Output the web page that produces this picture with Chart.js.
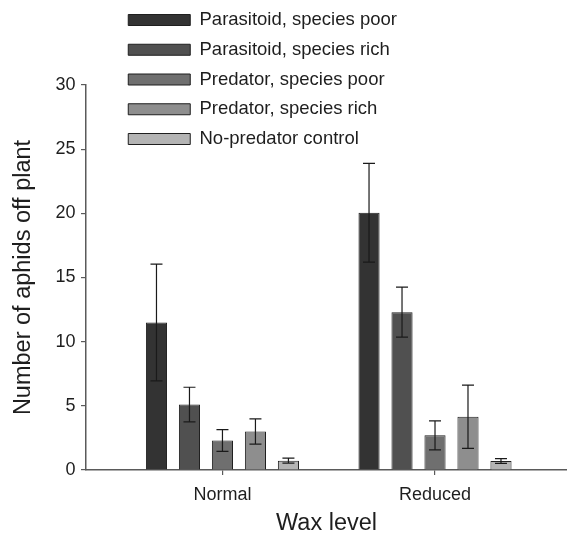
<!DOCTYPE html>
<html>
<head>
<meta charset="utf-8">
<script src="https://cdn.jsdelivr.net/npm/chart.js@4/dist/chart.umd.min.js"></script>
<style>
  html, body { margin: 0; padding: 0; background: #fff; }
  #wrap { width: 567px; height: 535px; }
</style>
</head>
<body>
<div id="wrap"><canvas id="aphid-chart"></canvas></div>
<script>
// categories on the x axis
const categories = ['Normal', 'Reduced'];

// series names, in legend order
const seriesNames = [
  'Parasitoid, species poor',
  'Parasitoid, species rich',
  'Predator, species poor',
  'Predator, species rich',
  'No-predator control',
];

// mean number of aphids off plant, per wax level
const parasitoidPoor = [11.5, 20.05];
const parasitoidRich = [5.1, 12.3];
const predatorPoor = [2.3, 2.7];
const predatorRich = [3.0, 4.15];
const noPredator = [0.73, 0.7];

// error bar half-widths
const parasitoidPoorErr = [4.55, 3.85];
const parasitoidRichErr = [1.35, 1.95];
const predatorPoorErr = [0.85, 1.13];
const predatorRichErr = [0.99, 2.47];
const noPredatorErr = [0.2, 0.18];

// y axis ticks
const yTicks = [0, 5, 10, 15, 20, 25, 30];

const seriesValues = [parasitoidPoor, parasitoidRich, predatorPoor, predatorRich, noPredator];
const seriesErrors = [parasitoidPoorErr, parasitoidRichErr, predatorPoorErr, predatorRichErr, noPredatorErr];
const seriesColors = ['#333333', '#505050', '#6f6f6f', '#8e8e8e', '#b4b4b4'];

const FONT = "'Liberation Sans', Arial, Helvetica, sans-serif";
const AXIS_COLOR = '#5a5a5a';
const TEXT_COLOR = '#1e1e1e';

/**
 * Draws the error bars on top of every bar, through the chart scales
 */
const errorBars = {
  id: 'errorBars',
  afterDatasetsDraw(chart) {
    const ctx = chart.ctx;
    const yScale = chart.scales.y;
    ctx.save();
    ctx.strokeStyle = '#1a1a1a';
    ctx.lineWidth = 1.2;
    chart.data.datasets.forEach((dataset, i) => {
      const meta = chart.getDatasetMeta(i);
      meta.data.forEach((bar, j) => {
        const value = seriesValues[i][j];
        const err = seriesErrors[i][j];
        const top = yScale.getPixelForValue(value + err);
        const bottom = yScale.getPixelForValue(value - err);
        const half = 6;
        ctx.beginPath();
        ctx.moveTo(bar.x, top);
        ctx.lineTo(bar.x, bottom);
        ctx.moveTo(bar.x - half, top);
        ctx.lineTo(bar.x + half, top);
        ctx.moveTo(bar.x - half, bottom);
        ctx.lineTo(bar.x + half, bottom);
        ctx.stroke();
      });
    });
    ctx.restore();
  },
};

// the legend sits inside the plot, a bit to the right of the y axis
const legendNudge = {
  id: 'legendNudge',
  afterLayout(chart) {
    chart.legend.left += 31;
    chart.legend.top -= 0.5;
  },
};

const chartContext = document.getElementById('aphid-chart').getContext('2d');
const aphidChart = new Chart(chartContext, {
  type: 'bar',
  data: {
    datasets: seriesNames.map((name, i) => ({
      label: name,
      data: seriesValues[i].map((v, j) => ({ x: j, y: v })),
      backgroundColor: seriesColors[i],
      borderColor: '#1f1f1f',
      borderWidth: 1,
      categoryPercentage: 0.776,
      barPercentage: 0.64,
    })),
  },
  options: {
    responsive: true,
    maintainAspectRatio: false,
    animation: false,
    layout: { padding: { top: 85, right: 0, bottom: 0, left: 0 } },
    plugins: {
      tooltip: { enabled: false },
      legend: {
        position: 'chartArea',
        align: 'start',
        labels: {
          boxWidth: 62,
          boxHeight: 11,
          padding: 11.25,
          color: TEXT_COLOR,
          font: { family: FONT, size: 18.5 },
        },
      },
    },
    scales: {
      x: {
        type: 'linear',
        min: -0.642,
        max: 1.621,
        offset: false,
        afterBuildTicks: (scale) => {
          scale.ticks = categories.map((c, i) => ({ value: i }));
        },
        afterFit: (scale) => {
          scale.height = 65;
        },
        ticks: {
          callback: (v) => categories[v],
          color: TEXT_COLOR,
          font: { family: FONT, size: 18 },
          padding: 9.5,
          maxRotation: 0,
        },
        grid: {
          display: true,
          offset: false,
          drawOnChartArea: false,
          tickLength: 5,
          color: AXIS_COLOR,
          lineWidth: 1.2,
        },
        border: { display: true, color: AXIS_COLOR, width: 1.5 },
        title: {
          display: true,
          text: 'Wax level',
          color: TEXT_COLOR,
          font: { family: FONT, size: 23.5, lineHeight: 1 },
          padding: { top: 0, bottom: 0 },
        },
      },
      y: {
        min: 0,
        max: 30,
        afterBuildTicks: (scale) => {
          scale.ticks = yTicks.map((v) => ({ value: v }));
        },
        afterFit: (scale) => {
          scale.width = 86;
        },
        ticks: {
          color: TEXT_COLOR,
          font: { family: FONT, size: 18 },
          padding: 5.5,
        },
        grid: {
          display: true,
          drawOnChartArea: false,
          tickLength: 5,
          color: AXIS_COLOR,
          lineWidth: 1.2,
        },
        border: { display: true, color: AXIS_COLOR, width: 1.5 },
        title: {
          display: true,
          text: 'Number of aphids off plant',
          color: TEXT_COLOR,
          font: { family: FONT, size: 23.5, lineHeight: 1 },
          padding: { top: 12, bottom: 0 },
        },
      },
    },
  },
  plugins: [errorBars, legendNudge],
});
</script>
</body>
</html>
